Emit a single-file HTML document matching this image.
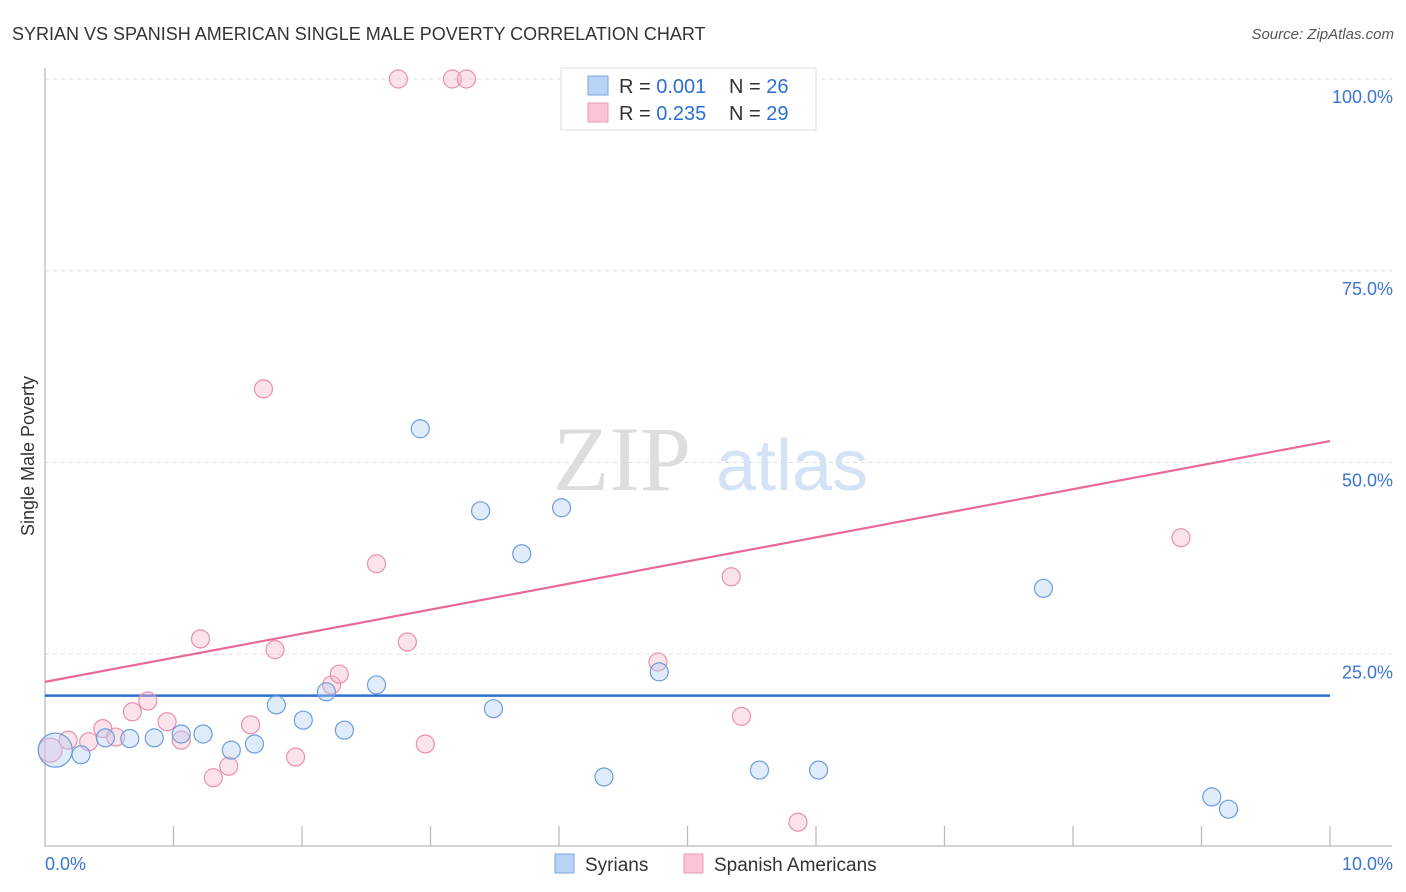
<!DOCTYPE html>
<html><head><meta charset="utf-8"><style>
body{margin:0;background:#fff;font-family:"Liberation Sans",sans-serif;}
svg{display:block}
</style></head><body>
<svg id="c" width="1406" height="892" xmlns="http://www.w3.org/2000/svg">
<text x="12" y="40" font-size="18" fill="#333">SYRIAN VS SPANISH AMERICAN SINGLE MALE POVERTY CORRELATION CHART</text>
<text x="1394" y="39" font-size="15" fill="#555" font-style="italic" text-anchor="end">Source: ZipAtlas.com</text>
<text x="34" y="456" font-size="18" fill="#333" text-anchor="middle" transform="rotate(-90 34 456)">Single Male Poverty</text>
<g><text x="553" y="490" font-size="92" fill="#ddd" font-family="Liberation Serif,serif">ZIP</text><text x="716" y="490" font-size="72" fill="#d3e2f5">atlas</text></g>
<g id="grid"></g><g id="axes"></g><g id="lines"></g><g id="pts"></g>
<g>
<rect x="561" y="68" width="255" height="62" fill="#fff" stroke="#ddd"/>
<rect x="588" y="76" width="20" height="19" fill="#b8d3f5" stroke="#7aa6e0"/>
<text x="619" y="93" font-size="20" fill="#333">R = <tspan fill="#2d6fd0">0.001</tspan></text>
<text x="729" y="93" font-size="20" fill="#333">N = <tspan fill="#2d6fd0">26</tspan></text>
<rect x="588" y="103" width="20" height="19" fill="#f9c6d6" stroke="#eb9ab4"/>
<text x="619" y="120" font-size="20" fill="#333">R = <tspan fill="#2d6fd0">0.235</tspan></text>
<text x="729" y="120" font-size="20" fill="#333">N = <tspan fill="#2d6fd0">29</tspan></text>
</g>
<g>
<rect x="555" y="854" width="19" height="19" fill="#b8d3f5" stroke="#7aa6e0"/>
<text x="585" y="871" font-size="19" fill="#333">Syrians</text>
<rect x="684" y="854" width="19" height="19" fill="#f9c6d6" stroke="#eb9ab4"/>
<text x="714" y="871" font-size="19" fill="#333">Spanish Americans</text>
</g>
<text x="45" y="870" font-size="18" fill="#3b74d0">0.0%</text>
<text x="1393" y="870" font-size="18" fill="#3b74d0" text-anchor="end">10.0%</text>
</svg>
<script>
const yTicks=[100,75,50,25];
const yTickLabels=["100.0%","75.0%","50.0%","25.0%"];
const syrX=[0.08,0.28,0.47,0.66,0.85,1.06,1.23,1.45,1.63,1.80,2.01,2.19,2.33,2.58,2.92,3.39,3.49,3.71,4.02,4.35,4.78,5.56,6.02,7.77,9.08,9.21];
const syrY=[12.5,11.9,14.1,14.0,14.1,14.6,14.6,12.5,13.3,18.4,16.4,20.1,15.1,21.0,54.4,43.7,17.9,38.1,44.1,9.0,22.7,9.9,9.9,33.6,6.4,4.8];
const spaX=[0.04,0.18,0.34,0.45,0.55,0.68,0.80,0.95,1.06,1.21,1.31,1.43,1.60,1.70,1.79,1.95,2.23,2.29,2.58,2.75,2.82,2.96,3.17,3.28,4.77,5.34,5.42,5.86,8.84];
const spaY=[12.5,13.8,13.6,15.3,14.2,17.5,18.9,16.2,13.8,27.0,8.9,10.4,15.8,59.6,25.6,11.6,21.0,22.4,36.8,100,26.6,13.3,100,100,24.0,35.1,16.9,3.1,40.2];
const syrTrend=[19.6,19.6];
const spaTrend=[21.4,52.8];
const NS="http://www.w3.org/2000/svg";
const X=v=>45+v*128.5, Y=v=>846-v*7.67;
function mk(t,a,p){const e=document.createElementNS(NS,t);for(const k in a)e.setAttribute(k,a[k]);p.appendChild(e);return e;}
const grid=document.getElementById('grid'),axes=document.getElementById('axes'),lines=document.getElementById('lines'),pts=document.getElementById('pts');
yTicks.forEach((t,i)=>{
 const l=mk('line',{x1:45,x2:1392,y1:Y(t),y2:Y(t),stroke:'#ddd','stroke-dasharray':'4,4'},grid);
 
 
 const tx=mk('text',{x:1393,y:Y(t)+24,'font-size':18,fill:'#3b74d0','text-anchor':'end'},grid);
 tx.textContent=yTickLabels[i];
 
 
});
const ax=mk('path',{d:'M45,68V846H1392',fill:'none',stroke:'#bbb','stroke-width':1.3},axes);


for(let i=1;i<=10;i++){const t=mk('line',{x1:X(i),x2:X(i),y1:826,y2:846,stroke:'#bbb','stroke-width':1.3},axes);
 
 }
function dot(x,y,r,f,s,n){const c=mk('circle',{cx:X(x),cy:Y(y),r:r,fill:f,'fill-opacity':0.4,stroke:s,'stroke-width':1.2},pts);
 
 }
spaX.forEach((x,i)=>dot(x,spaY[i],i==0?12:9,'#f7b6ca','#e890ae','spanish-american-point'));
syrX.forEach((x,i)=>dot(x,syrY[i],i==0?17:9,'#b3cff3','#6b9ddd','syrian-point'));
const sl=mk('line',{x1:X(0),x2:X(10),y1:Y(syrTrend[0]),y2:Y(syrTrend[1]),stroke:'#2d6fcf','stroke-width':2.5},lines);


const pl=mk('line',{x1:X(0),x2:X(10),y1:Y(spaTrend[0]),y2:Y(spaTrend[1]),stroke:'#e8699a','stroke-width':2.2},lines);


</script>
</body></html>
